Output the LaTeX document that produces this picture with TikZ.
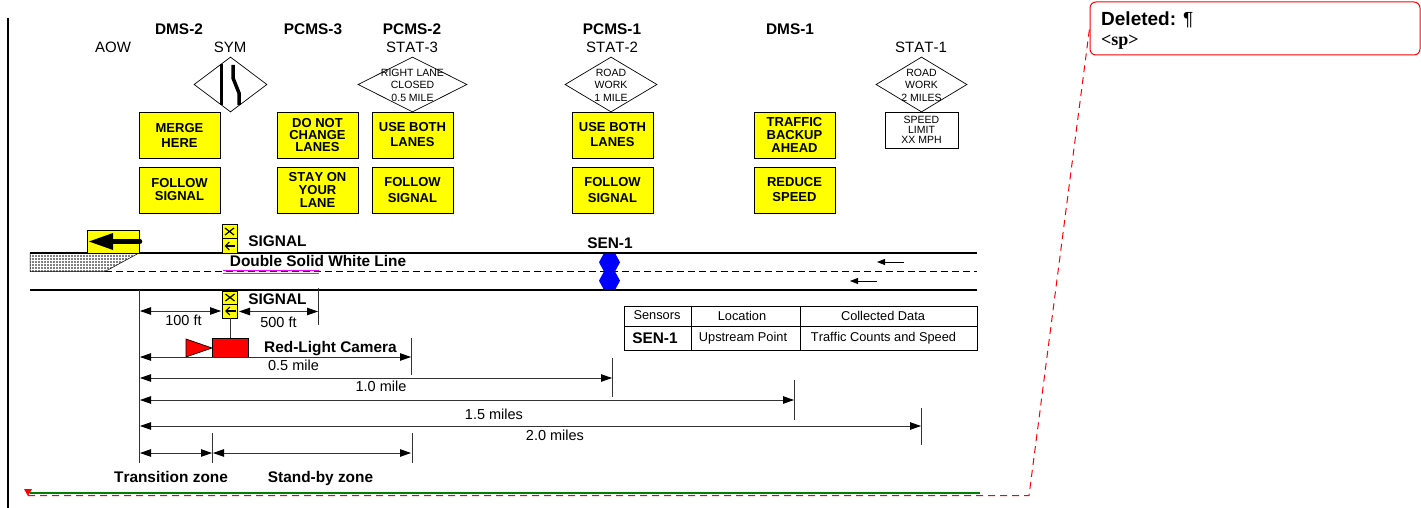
\documentclass[tikz,border=0pt]{standalone}
\usepackage{fontspec}
\setmainfont{Liberation Sans}[Kerning=Off]
\newfontfamily\delserif{Liberation Serif}
\usepackage{xcolor}
\usepackage{tikz}
\usetikzlibrary{shapes.geometric,patterns.meta,arrows.meta}
\definecolor{signY}{RGB}{255,255,0}
\definecolor{sensB}{RGB}{0,0,255}
\definecolor{camR}{RGB}{255,0,0}
\definecolor{lineP}{RGB}{255,0,255}
\definecolor{baseG}{RGB}{0,128,0}
\newcommand{\fnt}[2]{\fontsize{#1}{#2}\selectfont}

\begin{document}
\begin{tikzpicture}[x=1pt,y=-1pt,
  txt/.style={inner sep=0pt,font=\fnt{15}{17}},
  btxt/.style={inner sep=0pt,font=\fnt{15.4}{17}\bfseries},
  dtxt/.style={inner sep=0pt,align=center,font=\fnt{10.5}{12.5}},
  dmd/.style={diamond,draw,inner sep=0pt,minimum height=55pt,line width=0.7pt},
  yb/.style={draw,fill=signY,line width=0.8pt,inner sep=0pt,minimum width=81pt,minimum height=46pt,
    align=center,font=\fnt{13}{15}\bfseries},
  sg/.style={draw,fill=signY,line width=0.8pt,inner sep=0pt,minimum width=15pt,minimum height=14.5pt},
  cell/.style={draw,line width=0.8pt,inner sep=0pt},
  ctxt/.style={inner sep=0pt,font=\fnt{12.8}{15}},
  dim/.style={{Triangle[length=11pt,width=7.5pt,black]}-{Triangle[length=11pt,width=7.5pt,black]},line width=0.8pt,draw=black!80},
  tick/.style={line width=0.8pt,draw=black!80},
  lbl/.style={inner sep=0pt,font=\fnt{14.5}{17}}]
  \useasboundingbox (0,0) rectangle (1421,508);
  % margin bar
  \draw[line width=2pt] (8,18) -- (8,508);
  % device names
  \node[btxt] (dms2) at (179,29) {DMS-2};
  \node[btxt] (pcms3) at (313,29) {PCMS-3};
  \node[btxt] (pcms2) at (412,29) {PCMS-2};
  \node[btxt] (pcms1) at (612,29) {PCMS-1};
  \node[btxt] (dms1) at (790,29) {DMS-1};
  \node[txt] (aow) at (113,47) {AOW};
  \node[txt] (sym) at (230,47) {SYM};
  \node[txt] (stat3) at (412,47) {STAT-3};
  \node[txt] (stat2) at (612,47) {STAT-2};
  \node[txt] (stat1) at (921,47) {STAT-1};
  % diamonds
  \node[dmd,minimum width=73pt] (dsym) at (230.5,84.5) {};
  \draw[line width=3.5pt] (221.5,64) -- (221.5,105);
  \draw[line width=3.5pt] (233,65) -- (233,78) -- (239,93) -- (239,105);
  \node[dmd,minimum width=109pt] (dstat3) at (412.5,84.5) {};
  \node[dtxt] (tstat3) at (412.5,85) {RIGHT LANE\\CLOSED\\0.5 MILE};
  \node[dmd,minimum width=92pt] (dstat2) at (611,84.5) {};
  \node[dtxt] (tstat2) at (611,85) {ROAD\\WORK\\1 MILE};
  \node[dmd,minimum width=91pt] (dstat1) at (921.5,84.5) {};
  \node[dtxt] (tstat1) at (921.5,85) {ROAD\\WORK\\2 MILES};
  \node[draw,line width=0.7pt,inner sep=0pt,minimum width=73pt,minimum height=36pt,align=center,
    font=\fnt{10.5}{10}] (speed) at (921.5,130) {SPEED\\LIMIT\\XX MPH};
  % yellow signs
  \node[yb] (s1) at (179.5,135) {MERGE\\HERE};
  \node[yb,font=\fnt{13}{13}\bfseries] (s2) at (179.5,190) {FOLLOW\\SIGNAL};
  \node[yb,font=\fnt{13}{12}\bfseries] (s3) at (317.5,135) {DO NOT\\CHANGE\\LANES};
  \node[yb,font=\fnt{13}{13}\bfseries] (s4) at (317.5,190) {STAY ON\\YOUR\\LANE};
  \node[yb] (s5) at (412.5,135) {USE BOTH\\LANES};
  \node[yb,font=\fnt{13}{16}\bfseries] (s6) at (412.5,190) {FOLLOW\\SIGNAL};
  \node[yb] (s7) at (612.5,135) {USE BOTH\\LANES};
  \node[yb,font=\fnt{13}{16}\bfseries] (s8) at (612.5,190) {FOLLOW\\SIGNAL};
  \node[yb,font=\fnt{13}{13}\bfseries] (s9) at (794.5,135) {TRAFFIC\\BACKUP\\AHEAD};
  \node[yb] (s10) at (794.5,190) {REDUCE\\SPEED};
  % sensor
  \node[btxt] (sen) at (610,243) {SEN-1};
  \fill[sensB] (599,262.3) -- (604,253) -- (615,253) -- (620,262.3) -- (615,271.5)
    -- (620,280.7) -- (615,290) -- (604,290) -- (599,280.7) -- (604,271.5) -- cycle;
  % taper and road
  \draw[pattern={Dots[distance=3pt,radius=0.9pt]},pattern color=black,draw=black,line width=0.5pt]
    (30,253) -- (139,253) -- (105,271.5) -- (30,271.5) -- cycle;
  \draw[line width=1.2pt] (30,253) -- (977,253);
  \draw[line width=1.2pt] (30,290) -- (977,290);
  \draw[line width=0.8pt,dash pattern=on 7pt off 4pt] (105,271.5) -- (977,271.5);
  \draw[-{Triangle[length=8pt,width=6pt]},line width=0.8pt] (904,262) -- (877,262);
  \draw[-{Triangle[length=8pt,width=6pt]},line width=0.8pt] (877,281) -- (850,281);
  % arrow board
  \node[draw,fill=signY,line width=0.8pt,inner sep=0pt,minimum width=52pt,minimum height=23pt] (board) at (113,241.5) {};
  \draw[line width=4.5pt,line cap=round] (110,241.5) -- (140,241.5);
  \fill (89,241.5) -- (113,233) -- (113,250) -- cycle;
  % signals
  \node[sg] (sigtx) at (229.5,231.5) {};
  \node[sg] (sigta) at (229.5,246) {};
  \draw[line width=1.2pt] (225,228) -- (234,235) (225,235) -- (234,228);
  \draw[-{Straight Barb[length=4pt,width=8pt]},line width=1.1pt] (235,246) -- (224.5,246);
  \node[btxt] (sigt) at (277.5,241) {SIGNAL};
  \node[sg,minimum height=13pt] (sigbx) at (230,297.5) {};
  \node[sg,minimum height=14pt] (sigba) at (230,311) {};
  \draw[line width=1.2pt] (225.5,294) -- (234.5,301) (225.5,301) -- (234.5,294);
  \draw[-{Straight Barb[length=4pt,width=8pt]},line width=1.1pt] (235.5,311) -- (225,311);
  \node[btxt] (sigb) at (277.5,299) {SIGNAL};
  % double line
  \draw[lineP,line width=0.9pt] (223,270) -- (319,270) (223,273.5) -- (319,273.5);
  \node[btxt] (dbl) at (318,261) {Double Solid White Line};
  % table
  \node[cell,minimum width=67pt,minimum height=20pt] (c11) at (657.5,316) {};
  \node[cell,minimum width=109pt,minimum height=20pt] (c12) at (745.5,316) {};
  \node[cell,minimum width=177pt,minimum height=20pt] (c13) at (888.5,316) {};
  \node[cell,minimum width=67pt,minimum height=24pt] (c21) at (657.5,338) {};
  \node[cell,minimum width=109pt,minimum height=24pt] (c22) at (745.5,338) {};
  \node[cell,minimum width=177pt,minimum height=24pt] (c23) at (888.5,338) {};
  \node[ctxt] (t11) at (657,315.5) {Sensors};
  \node[ctxt] (t12) at (742,316) {Location};
  \node[ctxt] (t13) at (883,316) {Collected Data};
  \node[btxt] (t21) at (655,338) {SEN-1};
  \node[ctxt] (t22) at (743,338) {Upstream Point};
  \node[ctxt] (t23) at (883.5,338) {Traffic Counts and Speed};
  % camera
  \node[draw,fill=camR,line width=0.7pt,inner sep=0pt,minimum width=36pt,minimum height=19pt] (cam) at (230,347.5) {};
  \draw[fill=camR,line width=0.7pt] (186,339) -- (186,357) -- (212,348) -- cycle;
  \draw[line width=0.7pt,draw=black!80] (sigba.south) -- (cam.north);
  \node[btxt] (camt) at (330.5,348.5) {Red-Light Camera};
  % end lines for the distances
  \coordinate (b0) at (139,290);
  \coordinate (b1) at (139,463);
  \coordinate (t500a) at (318,288);
  \coordinate (t500b) at (318,325);
  \coordinate (t05a) at (411.5,338);
  \coordinate (t05b) at (411.5,375);
  \coordinate (t10a) at (612,358);
  \coordinate (t10b) at (612,397);
  \coordinate (t15a) at (794,380);
  \coordinate (t15b) at (794,420);
  \coordinate (t20a) at (921.5,408);
  \coordinate (t20b) at (921.5,445);
  \coordinate (tza) at (212,433);
  \coordinate (tzb) at (212,463);
  \coordinate (sza) at (412,433);
  \coordinate (szb) at (412,463);
  \draw[tick] (b0) -- (b1);
  \draw[tick] (t500a) -- (t500b);
  \draw[tick] (t05a) -- (t05b);
  \draw[tick] (t10a) -- (t10b);
  \draw[tick] (t15a) -- (t15b);
  \draw[tick] (t20a) -- (t20b);
  \draw[tick] (tza) -- (tzb);
  \draw[tick] (sza) -- (szb);
  % distances
  \coordinate (d100a) at (140,311);
  \coordinate (d100b) at (221,311);
  \coordinate (d500a) at (239,311.5);
  \coordinate (d500b) at (318,311.5);
  \coordinate (d05a) at (140,357);
  \coordinate (d05b) at (411,357);
  \coordinate (d10a) at (140,378);
  \coordinate (d10b) at (612,378);
  \coordinate (d15a) at (140,400);
  \coordinate (d15b) at (794,400);
  \coordinate (d20a) at (140,426);
  \coordinate (d20b) at (921,426);
  \coordinate (dza) at (140,453);
  \coordinate (dzb) at (212,453);
  \coordinate (dsa) at (213,453);
  \coordinate (dsb) at (411,453);
  \draw[dim] (d100a) -- (d100b);
  \draw[dim] (d500a) -- (d500b);
  \draw[dim] (d05a) -- (d05b);
  \draw[dim] (d10a) -- (d10b);
  \draw[dim] (d15a) -- (d15b);
  \draw[dim] (d20a) -- (d20b);
  \draw[dim] (dza) -- (dzb);
  \draw[dim] (dsa) -- (dsb);
  \node[lbl] (l100) at (183.5,320) {100 ft};
  \node[lbl] (l500) at (278.5,322) {500 ft};
  \node[lbl] (l05) at (293.5,365) {0.5 mile};
  \node[lbl] (l10) at (381,386) {1.0 mile};
  \node[lbl] (l15) at (494,414) {1.5 miles};
  \node[lbl] (l20) at (555,435) {2.0 miles};
  \node[btxt] (ltz) at (171,477) {Transition zone};
  \node[btxt] (lsz) at (320.5,478.5) {Stand-by zone};
  % revision mark
  \node[draw=camR,line width=1pt,rounded corners=6pt,inner sep=0pt,minimum width=330pt,minimum height=53pt] (delbox) at (1255,28.5) {};
  \node[inner sep=0pt,anchor=west,font=\fnt{19}{21}\bfseries] (deltxt) at (1101,19.5) {Deleted: \textmd{¶}};
  \node[inner sep=0pt,anchor=west,font=\fnt{18}{20}\delserif\bfseries] (delsp) at (1101,42) {<sp>};
  \coordinate (grA) at (30,493);
  \coordinate (grB) at (980,493);
  \coordinate (leadA) at (28,495.7);
  \coordinate (leadB) at (1029,495.7);
  \draw[baseG,line width=2pt] (grA) -- (grB);
  \draw[camR,line width=1pt,dash pattern=on 7pt off 5pt] (leadA) -- (leadB) -- (delbox.west);
  \fill[camR] (24,489) -- (32,489) -- (28,496) -- cycle;
\end{tikzpicture}
\end{document}
